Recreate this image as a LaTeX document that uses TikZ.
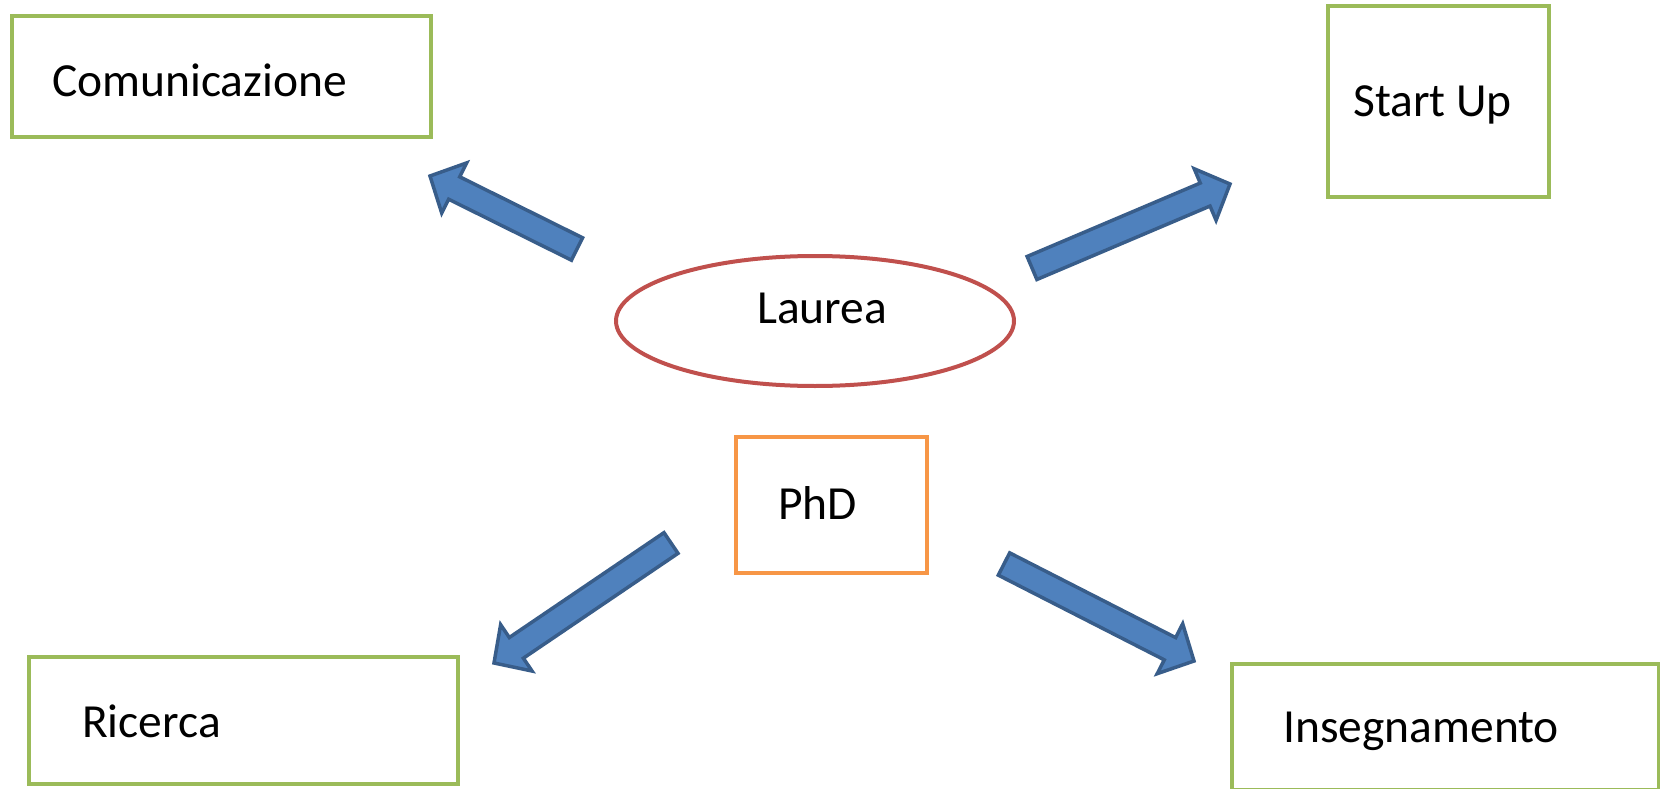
\documentclass[tikz,border=0pt]{standalone}
\usepackage{fontspec}
\setmainfont{Carlito}
\usetikzlibrary{calc,shapes.geometric}
\definecolor{boxgreen}{HTML}{9BBB59}
\definecolor{ellred}{HTML}{C0504D}
\definecolor{phdorange}{HTML}{F79646}
\definecolor{arrfill}{HTML}{4F81BD}
\definecolor{arrline}{HTML}{385D8A}
\tikzset{
  greenbox/.style={draw=boxgreen, line width=4.5pt, rectangle, inner sep=0pt},
  orangebox/.style={draw=phdorange, line width=4pt, rectangle, inner sep=0pt},
  redell/.style={draw=ellred, line width=4pt, ellipse, inner sep=0pt},
  lbl/.style={anchor=base west, inner sep=0pt, font=\fontsize{47.5}{57}\selectfont},
  blockarrow/.style={fill=arrfill, draw=arrline, line width=3.5pt, line join=miter}
}
\newcommand\blockarr[2]{%
  \coordinate (#2b) at ($(#2)!27pt!(#1)$);
  \draw[blockarrow] ($(#1)!12.5pt!90:(#2)$) -- ($(#2b)!12.5pt!90:(#2)$) -- ($(#2b)!28pt!90:(#2)$) -- (#2) -- ($(#2b)!28pt!-90:(#2)$) -- ($(#2b)!12.5pt!-90:(#2)$) -- ($(#1)!12.5pt!-90:(#2)$) -- cycle;}
\begin{document}
\begin{tikzpicture}[x=1pt,y=-1pt]
\useasboundingbox (0,0) rectangle (1660,789);
\clip (0,0) rectangle (1660,789);
% boxes
\node[greenbox, minimum width=419pt, minimum height=121pt] (com) at (221.5,76.5) {};
\node[greenbox, minimum width=221pt, minimum height=191pt] (start) at (1438.5,101.5) {};
\node[redell, minimum width=398pt, minimum height=130pt] (laurea) at (815,321) {};
\node[orangebox, minimum width=191pt, minimum height=136pt] (phd) at (831.5,505) {};
\node[greenbox, minimum width=429pt, minimum height=127pt] (ric) at (243.5,720.5) {};
\node[greenbox, minimum width=427pt, minimum height=126pt] (ins) at (1445.5,727) {};
% labels
\node[lbl] (tcom) at (52,97) {Comunicazione};
\node[lbl] (tstart) at (1353,117) {Start Up};
\node[lbl] (tlaurea) at (757,323) {Laurea};
\node[lbl] (tphd) at (778,519) {PhD};
\node[lbl] (tric) at (82,737) {Ricerca};
\node[lbl] (tins) at (1283,742) {Insegnamento};
% arrows
\coordinate (a1s) at (577,249);  \coordinate (a1e) at (430,176);
\coordinate (a2s) at (1032,268); \coordinate (a2e) at (1230,184);
\coordinate (a3s) at (671,543);  \coordinate (a3e) at (494,663);
\coordinate (a4s) at (1004,564); \coordinate (a4e) at (1194,661);
\blockarr{a1s}{a1e}
\blockarr{a2s}{a2e}
\blockarr{a3s}{a3e}
\blockarr{a4s}{a4e}
\end{tikzpicture}
\end{document}
